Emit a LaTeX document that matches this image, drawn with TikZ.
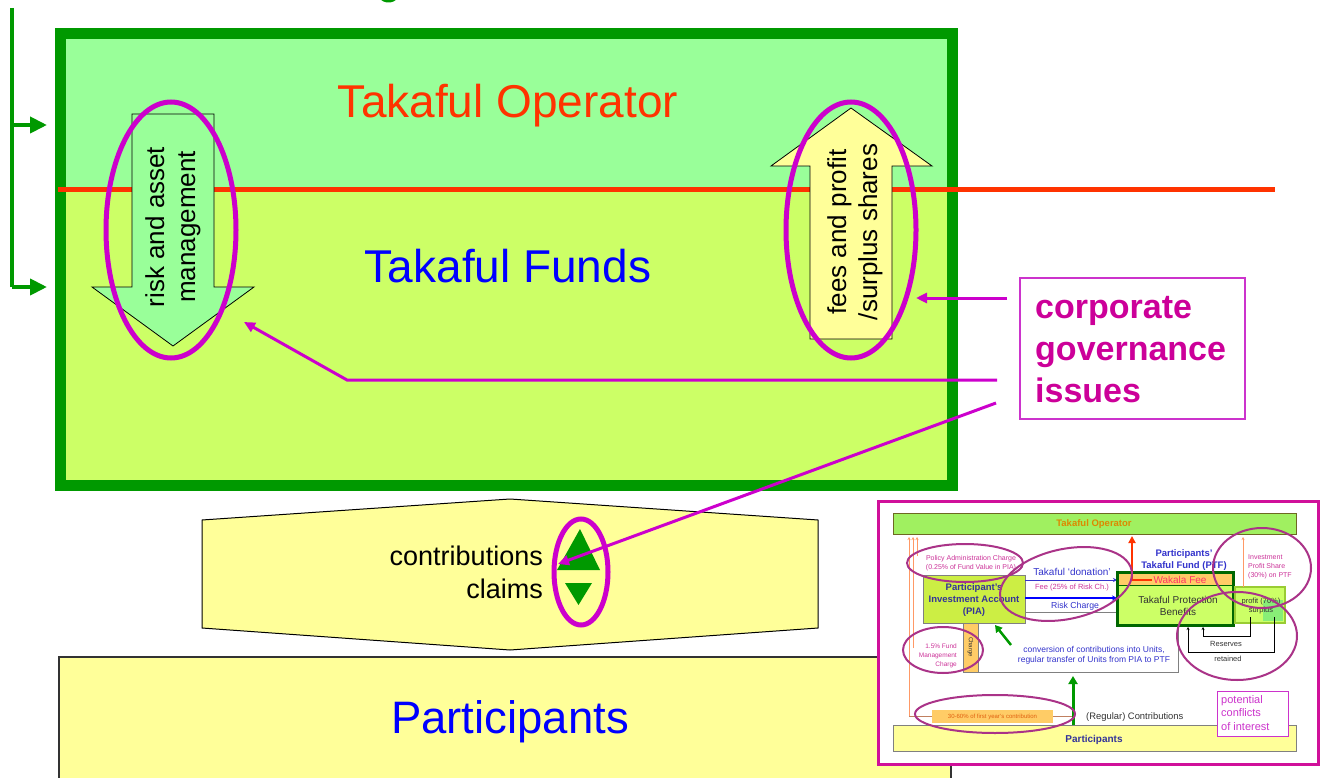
\documentclass[tikz,border=0pt]{standalone}
\usepackage{fontspec}
\setmainfont{Liberation Sans}
\usetikzlibrary{arrows.meta,shapes.geometric}
\definecolor{bordergreen}{HTML}{009900}
\definecolor{topfill}{HTML}{99FF99}
\definecolor{lowfill}{HTML}{CCFF66}
\definecolor{opred}{HTML}{FF3300}
\definecolor{ringmag}{HTML}{CC00CC}
\definecolor{govbox}{HTML}{CC33CC}
\definecolor{govtext}{HTML}{CC0099}
\definecolor{yellowfill}{HTML}{FFFF99}
\definecolor{insetmag}{HTML}{D0109A}
\definecolor{insetring}{HTML}{AA3388}
\definecolor{insetgreen}{HTML}{A0F060}
\definecolor{piafill}{HTML}{CCEE44}
\definecolor{navy}{HTML}{333399}
\definecolor{iblue}{HTML}{3333CC}
\definecolor{ipink}{HTML}{CC3399}
\definecolor{iorange}{HTML}{FF9966}
\definecolor{ibrown}{HTML}{C08060}
\definecolor{boxorange}{HTML}{FFCC66}
\definecolor{darkgray}{HTML}{333333}
\definecolor{profborder}{HTML}{99CC33}
\definecolor{ptfborder}{HTML}{006600}
\definecolor{iopcol}{HTML}{DD8800}
\definecolor{wakcol}{HTML}{FF3366}
\definecolor{fycol}{HTML}{E06010}
\definecolor{profgreen}{HTML}{88EE77}
\newcommand\fsz[2]{\fontsize{#1}{#2}\selectfont}
\begin{document}
\begin{tikzpicture}[x=1pt,y=-1pt,
  govarrow/.style={draw=ringmag, line width=3pt, -{Triangle[length=11pt,width=10pt]}},
  ring/.style={draw=ringmag, line width=5pt},
  iring/.style={draw=insetring, line width=2pt},
  bracketarrow/.style={draw=bordergreen, line width=4pt, -{Triangle[length=17pt,width=16pt]}},
  bigarrow/.style={draw=black, line width=0.8pt},
]
\useasboundingbox (0,0) rectangle (1323,778);

% tail of a heading glyph cut by the top edge
\fill[bordergreen] (380,-2) .. controls (382,4) and (395,4) .. (397,-2) -- (393,-2) .. controls (391,1) and (386,1) .. (384,-2) -- cycle;

% left bracket
\coordinate (brtop) at (12,8);
\coordinate (br1) at (12,125);
\coordinate (br2) at (12,287);
\coordinate (br1e) at (47,125);
\coordinate (br2e) at (47,287);
\draw[draw=bordergreen, line width=4pt] (brtop) -- (br2);
\draw[bracketarrow] (br1) -- (br1e);
\draw[bracketarrow] (br2) -- (br2e);

% main box
\fill[topfill] (60,33) rectangle (953,190);
\fill[lowfill] (60,190) rectangle (953,486);
\draw[draw=bordergreen, line width=11pt] (60.5,33.5) rectangle (952.5,485.5);
\coordinate (redL) at (58,190);
\coordinate (redR) at (1275,190);
\draw[draw=opred, line width=5pt] (redL) -- (redR);

\node[anchor=base, text=opred, font=\fsz{46}{52}] (op) at (508,118) {Takaful Operator};
\node[anchor=base, text=blue, font=\fsz{46}{52}] (funds) at (508,283) {Takaful Funds};

% down arrow
\filldraw[fill=topfill, bigarrow] (132,114) -- (214,114) -- (214,287) -- (254,287) -- (173,346) -- (92,287) -- (132,287) -- cycle;
\node[rotate=90, align=center, font=\fsz{26}{31}] (risk) at (173,227) {risk and asset\\management};
\draw[ring] (171,230) ellipse [x radius=65, y radius=128];

% up arrow
\filldraw[fill=yellowfill, bigarrow] (810,339) -- (892,339) -- (892,166) -- (932,166) -- (851,108) -- (771,166) -- (810,166) -- cycle;
\node[rotate=90, align=center, font=\fsz{26}{31}] (fees) at (855,232) {fees and profit\\/surplus shares};
\draw[ring] (851,230) ellipse [x radius=65, y radius=128];

% hexagon
\filldraw[fill=yellowfill, draw=black, line width=1pt] (202,520) -- (510,499) -- (818,520) -- (818,628) -- (510,650) -- (202,628) -- cycle;
\node[anchor=base east, font=\fsz{27}{30}, inner sep=0pt] (contr) at (543,565) {contributions};
\node[anchor=base east, font=\fsz{27}{30}, inner sep=0pt] (claims) at (543,598) {claims};
\fill[bordergreen] (580,529) -- (600,570) -- (557,570) -- cycle;
\fill[bordergreen] (565,583) -- (592,583) -- (578.5,605) -- cycle;
\draw[ring] (581,572) ellipse [x radius=27, y radius=53];

% participants
\filldraw[fill=yellowfill, draw=black!80, line width=2pt] (59,657) rectangle (951,800);
\node[anchor=base, text=blue, font=\fsz{45.5}{50}] (part) at (510,733) {Participants};

% corporate governance
\node[draw=govbox, line width=2pt, minimum width=225pt, minimum height=141pt, anchor=north west] (gov) at (1019,277) {};
\node[anchor=north west, align=left, text=govtext, font=\bfseries\fsz{34}{42}, inner sep=0pt] (govtxt) at (1035,296) {corporate\\governance\\issues};
\coordinate (g1) at (1007,298);
\coordinate (g1t) at (916,298);
\coordinate (g2) at (997,380);
\coordinate (g2b) at (347,380);
\coordinate (g2t) at (244,322);
\coordinate (g3) at (996,403);
\coordinate (g3t) at (558,564);
\draw[govarrow] (g1) -- (g1t);
\draw[govarrow] (g2) -- (g2b) -- (g2t);
\draw[govarrow] (g3) -- (g3t);

% ================= inset =================
\filldraw[fill=white, draw=insetmag, line width=3pt] (878,501) rectangle (1318,764);
% operator bar
\filldraw[fill=insetgreen, draw=olive!70!black, line width=0.8pt] (893,513) rectangle (1296,534);
\node[text=iopcol, font=\bfseries\fsz{9.5}{11}, inner sep=0pt] (iop) at (1094,524) {Takaful Operator};
% participants bar
\filldraw[fill=yellowfill, draw=gray, line width=0.8pt] (893,725) rectangle (1296,751);
\node[text=navy, font=\bfseries\fsz{10}{12}, inner sep=0pt] (ipart) at (1094,740) {Participants};
% orange lines on left
\coordinate (oA) at (909,716); \coordinate (oAt) at (909,537);
\coordinate (oB) at (913,648); \coordinate (oBt) at (913,537);
\coordinate (oC) at (917,556); \coordinate (oCt) at (917,537);
\draw[draw=iorange, line width=0.8pt, -{Stealth[length=3pt,width=3pt]}] (oA) -- (oAt);
\draw[draw=iorange, line width=0.8pt, -{Stealth[length=3pt,width=3pt]}] (oB) -- (oBt);
\draw[draw=iorange, line width=0.8pt, -{Stealth[length=3pt,width=3pt]}] (oC) -- (oCt);
\coordinate (oH) at (1073,716);
\draw[draw=ibrown, line width=0.8pt] (oA) -- (oH);
% gray frame around conversion
\draw[draw=gray, line width=1pt] (978,623) -- (978,672) -- (1178,672) -- (1178,625);
% PIA
\filldraw[fill=piafill, draw=gray, line width=0.8pt] (923,575) rectangle (1025,623);
\node[align=center, text=navy, font=\bfseries\fsz{9.5}{12}, inner sep=0pt] (pia) at (974,600) {Participant's\\Investment Account\\(PIA)};
\filldraw[fill=boxorange, draw=gray, line width=0.6pt] (963,623) rectangle (978,672);
\node[rotate=-90, font=\fsz{6}{7}, text=darkgray, inner sep=0pt] (chg) at (970.5,647) {Charge};
\node[align=center, text=ipink, font=\fsz{7}{9.5}, inner sep=0pt] (pol) at (971,563) {Policy Administration Charge\\(0.25\% of Fund Value in PIA)};
\node[align=right, anchor=east, text=ipink, font=\fsz{6.5}{9}, inner sep=0pt] (fmc) at (957,656) {1.5\% Fund\\Management\\Charge};
% middle connectors
\coordinate (m1s) at (1025,580); \coordinate (m1e) at (1117,580);
\coordinate (m2s) at (1025,598); \coordinate (m2e) at (1117,598);
\coordinate (m3s) at (1025,612); \coordinate (m3e) at (1117,612);
\draw[draw=iblue, line width=0.8pt, -{Stealth[length=4pt,width=4pt]}] (m1s) -- (m1e);
\draw[draw=blue, line width=1.5pt, -{Stealth[length=5pt,width=5pt]}] (m2s) -- (m2e);
\draw[draw=gray, line width=1pt] (m3s) -- (m3e);
\node[anchor=base, text=iblue, font=\fsz{10}{12}, inner sep=0pt] (don) at (1072,575) {Takaful `donation'};
\node[anchor=base, text=ipink, font=\fsz{7.5}{9}, inner sep=0pt] (fee) at (1072,589) {Fee (25\% of Risk Ch.)};
\node[anchor=base, text=iblue, font=\fsz{8.7}{10}, inner sep=0pt] (rch) at (1075,608) {Risk Charge};
% PTF
\filldraw[fill=lowfill, draw=ptfborder, line width=3pt] (1117,572) rectangle (1233,625);
\fill[boxorange] (1118.5,573.5) rectangle (1231.5,585);
\draw[draw=ptfborder, line width=1pt] (1118.5,585) -- (1231.5,585);
\node[anchor=base, text=wakcol, font=\fsz{10}{12}, inner sep=0pt] (wak) at (1180,583) {Wakala Fee};
\node[align=center, text=darkgray, font=\fsz{10}{11.5}, inner sep=0pt] (tpb) at (1178,606) {Takaful Protection\\Benefits};
\node[align=center, text=iblue, font=\bfseries\fsz{9.5}{11.5}, inner sep=0pt] (ptf) at (1184,560) {Participants'\\Takaful Fund (PTF)};
\coordinate (r1) at (1152,580); \coordinate (r2) at (1132,580); \coordinate (r3) at (1132,536);
\draw[draw=opred, line width=2pt, -{Triangle[length=7pt,width=7pt]}] (r1) -- (r2) -- (r3);
% profit box
\filldraw[fill=lowfill, draw=profborder, line width=1.5pt] (1235,587) rectangle (1285,623);
\fill[profgreen] (1263,600) rectangle (1283,621);
\node[align=center, text=darkgray, font=\fsz{7.5}{9}, inner sep=0pt] (prof) at (1261,606) {profit (70\%)\\surplus};
\coordinate (p1) at (1243,587); \coordinate (p1t) at (1243,537);
\draw[draw=iorange, line width=0.8pt, -{Stealth[length=3pt,width=3pt]}] (p1) -- (p1t);
\node[anchor=west, align=left, text=ipink, font=\fsz{7}{9}, inner sep=0pt] (ips) at (1248,567) {Investment\\Profit Share\\(30\%) on PTF};
% reserves
\draw[draw=black, line width=0.8pt, {Stealth[length=3pt,width=3pt]}-] (1188,627) -- (1188,652) -- (1274,652) -- (1274,617);
\draw[draw=black, line width=0.8pt, {Stealth[length=3pt,width=3pt]}-] (1203,627) -- (1203,636) -- (1250,636) -- (1250,617);
\node[anchor=base, font=\fsz{7.5}{9}, text=darkgray, inner sep=0pt] (res) at (1226,646) {Reserves};
\node[anchor=base, font=\fsz{7.5}{9}, text=darkgray, inner sep=0pt] (ret) at (1228,661) {retained};
% conversion
\node[align=center, text=iblue, font=\fsz{8.5}{10}, inner sep=0pt] (conv) at (1094,655) {conversion of contributions into Units,\\regular transfer of Units from PIA to PTF};
\coordinate (ga1) at (1011,645); \coordinate (ga1t) at (995,625);
\draw[draw=bordergreen, line width=2.5pt, -{Triangle[length=7pt,width=8pt]}] (ga1) -- (ga1t);
\coordinate (ga2) at (1073,725); \coordinate (ga2t) at (1073,676);
\draw[draw=bordergreen, line width=3pt, -{Triangle[length=8pt,width=9pt]}] (ga2) -- (ga2t);
\node[anchor=base west, text=darkgray, font=\fsz{9.4}{11}, inner sep=0pt] (regc) at (1086,719) {(Regular) Contributions};
% first year
\fill[boxorange] (932,710) rectangle (1053,723);
\node[text=fycol, font=\fsz{6}{7}, inner sep=0pt] (fy) at (992.5,716.5) {30-60\% of first year's contribution};
% potential conflicts
\filldraw[fill=white, draw=govbox, line width=1pt] (1217,691) rectangle (1288,736);
\node[anchor=west, align=left, text=govbox, font=\fsz{11}{13.5}, inner sep=0pt] (pot) at (1221,713) {potential\\conflicts\\of interest};
% inset rings
\draw[iring] (965,563) ellipse [x radius=58, y radius=19];
\draw[iring, rotate around={12:(1066,584)}] (1066,584) ellipse [x radius=67, y radius=35];
\draw[iring] (1262,568) ellipse [x radius=49, y radius=40];
\draw[iring] (1237,636) ellipse [x radius=60, y radius=44];
\draw[iring] (943,650) ellipse [x radius=40, y radius=23];
\draw[iring] (995,714) ellipse [x radius=80, y radius=19];
\end{tikzpicture}
\end{document}
